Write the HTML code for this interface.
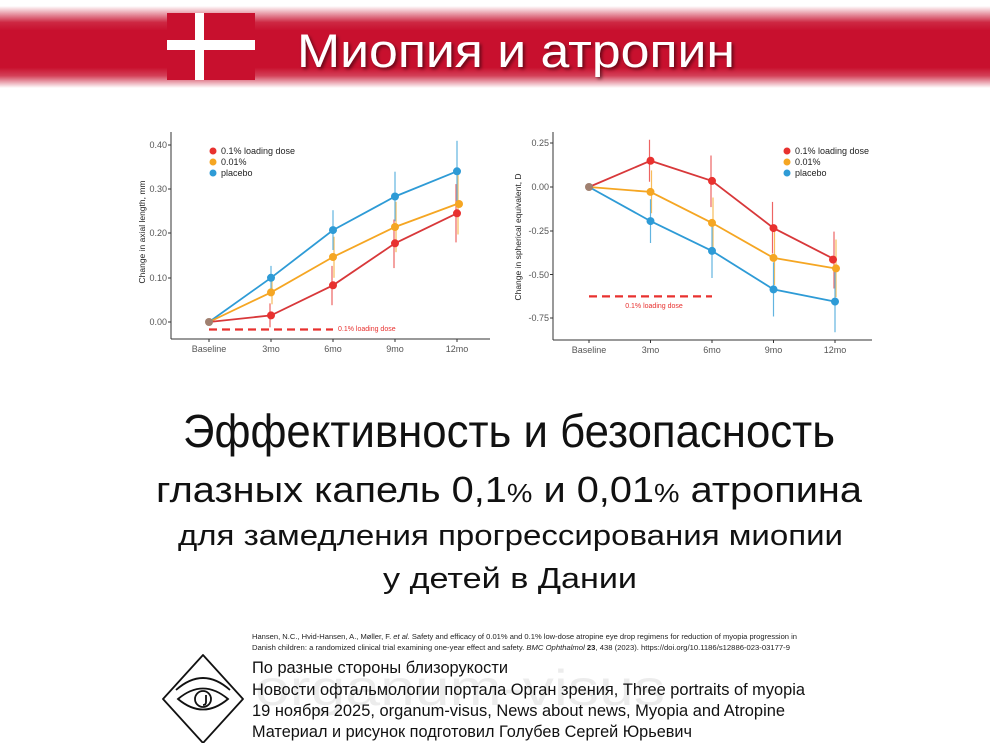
<!DOCTYPE html>
<html><head><meta charset="utf-8"><style>
html,body{margin:0;padding:0;background:#fff}
svg{display:block}
</style></head><body>
<svg width="990" height="743" viewBox="0 0 990 743" xmlns="http://www.w3.org/2000/svg" font-family="Liberation Sans, DejaVu Sans, sans-serif">
<defs>
<linearGradient id="band" x1="0" y1="0" x2="0" y2="1">
<stop offset="0" stop-color="#c8102e" stop-opacity="0"/>
<stop offset="0.2" stop-color="#c8102e" stop-opacity="0.9"/>
<stop offset="0.3" stop-color="#c8102e"/>
<stop offset="0.75" stop-color="#c8102e"/>
<stop offset="0.85" stop-color="#c8102e" stop-opacity="0.8"/>
<stop offset="1" stop-color="#c8102e" stop-opacity="0"/>
</linearGradient>
<filter id="sh"><feDropShadow dx="2" dy="2" stdDeviation="1.5" flood-color="#000" flood-opacity="0.5"/></filter>
</defs>
<rect x="0" y="6" width="990" height="82" fill="url(#band)"/>
<rect x="167" y="13" width="88" height="67" fill="#c8102e"/>
<rect x="195" y="13" width="9" height="67" fill="#fff"/>
<rect x="167" y="40" width="88" height="10" fill="#fff"/>
<text x="297" y="67" font-size="47" fill="#fff" textLength="438" lengthAdjust="spacingAndGlyphs" filter="url(#sh)">Миопия и атропин</text>

<!-- Chart 1 -->
<g font-size="9" fill="#555">
<line x1="171" y1="132" x2="171" y2="339" stroke="#333"/>
<line x1="171" y1="339" x2="490" y2="339" stroke="#333"/>
<g text-anchor="end">
<text x="167" y="148">0.40</text><text x="167" y="192">0.30</text><text x="167" y="236">0.20</text><text x="167" y="281">0.10</text><text x="167" y="325">0.00</text>
</g>
<g stroke="#333"><line x1="168" y1="145" x2="171" y2="145"/><line x1="168" y1="189" x2="171" y2="189"/><line x1="168" y1="233" x2="171" y2="233"/><line x1="168" y1="278" x2="171" y2="278"/><line x1="168" y1="322" x2="171" y2="322"/>
<line x1="209" y1="339" x2="209" y2="342"/><line x1="271" y1="339" x2="271" y2="342"/><line x1="333" y1="339" x2="333" y2="342"/><line x1="395" y1="339" x2="395" y2="342"/><line x1="457" y1="339" x2="457" y2="342"/></g>
<g text-anchor="middle"><text x="209" y="352">Baseline</text><text x="271" y="352">3mo</text><text x="333" y="352">6mo</text><text x="395" y="352">9mo</text><text x="457" y="352">12mo</text></g>
<text transform="translate(145,232) rotate(-90)" text-anchor="middle" fill="#222" font-size="8.5">Change in axial length, mm</text>
</g>
<line x1="209" y1="329.5" x2="333" y2="329.5" stroke="#e8312f" stroke-width="2.2" stroke-dasharray="8,5"/>
<text x="338" y="331" font-size="7" fill="#e8312f">0.1% loading dose</text>
<g stroke-width="1.2" opacity="0.75">
<g stroke="#e8312f"><line x1="270" y1="327.3" x2="270" y2="303.4"/><line x1="332" y1="305.2" x2="332" y2="265.9"/><line x1="394" y1="268.1" x2="394" y2="219.5"/><line x1="456" y1="242.4" x2="456" y2="184.1"/></g>
<g stroke="#f5a623"><line x1="272" y1="304.3" x2="272" y2="280"/><line x1="334" y1="277.8" x2="334" y2="236.7"/><line x1="396" y1="252.2" x2="396" y2="201.8"/><line x1="458" y1="234.5" x2="458" y2="173.9"/></g>
<g stroke="#2e9bd6"><line x1="271" y1="289.7" x2="271" y2="265.9"/><line x1="333" y1="250" x2="333" y2="210.2"/><line x1="395" y1="221.2" x2="395" y2="171.7"/><line x1="457" y1="201.8" x2="457" y2="140.8"/></g>
</g>
<g fill="none" stroke-width="1.8">
<polyline stroke="#2e9bd6" points="209,322 271,277.8 333,230.1 395,196.5 457,171.3"/>
<polyline stroke="#f5a623" points="209,322 271,292.4 333,257 395,227 457,204"/>
<polyline stroke="#d8383a" points="209,322 271,315.4 333,285.3 395,243.3 457,213.3"/>
</g>
<g fill="#2e9bd6"><circle cx="271" cy="277.8" r="4"/><circle cx="333" cy="230.1" r="4"/><circle cx="395" cy="196.5" r="4"/><circle cx="457" cy="171.3" r="4"/></g>
<g fill="#f5a623"><circle cx="271" cy="292.4" r="4"/><circle cx="333" cy="257" r="4"/><circle cx="395" cy="227" r="4"/><circle cx="459" cy="204" r="4"/></g>
<g fill="#e8312f"><circle cx="271" cy="315.4" r="4"/><circle cx="333" cy="285.3" r="4"/><circle cx="395" cy="243.3" r="4"/><circle cx="457" cy="213.3" r="4"/></g>
<circle cx="209" cy="322" r="4" fill="#a08070"/>
<g font-size="9" fill="#222">
<circle cx="213" cy="151" r="3.5" fill="#e8312f"/><text x="221" y="154">0.1% loading dose</text>
<circle cx="213" cy="162" r="3.5" fill="#f5a623"/><text x="221" y="165">0.01%</text>
<circle cx="213" cy="173" r="3.5" fill="#2e9bd6"/><text x="221" y="176">placebo</text>
</g>

<!-- Chart 2 -->
<g font-size="9" fill="#555">
<line x1="553" y1="132" x2="553" y2="340" stroke="#333"/>
<line x1="553" y1="340" x2="872" y2="340" stroke="#333"/>
<g text-anchor="end">
<text x="549" y="146">0.25</text><text x="549" y="190">0.00</text><text x="549" y="234">-0.25</text><text x="549" y="278">-0.50</text><text x="549" y="321">-0.75</text>
</g>
<g stroke="#333"><line x1="550" y1="143" x2="553" y2="143"/><line x1="550" y1="187" x2="553" y2="187"/><line x1="550" y1="231" x2="553" y2="231"/><line x1="550" y1="274.5" x2="553" y2="274.5"/><line x1="550" y1="318" x2="553" y2="318"/>
<line x1="589" y1="340" x2="589" y2="343"/><line x1="650.5" y1="340" x2="650.5" y2="343"/><line x1="712" y1="340" x2="712" y2="343"/><line x1="773.5" y1="340" x2="773.5" y2="343"/><line x1="835" y1="340" x2="835" y2="343"/></g>
<g text-anchor="middle"><text x="589" y="353">Baseline</text><text x="650.5" y="353">3mo</text><text x="712" y="353">6mo</text><text x="773.5" y="353">9mo</text><text x="835" y="353">12mo</text></g>
<text transform="translate(521,237) rotate(-90)" text-anchor="middle" fill="#222" font-size="8.5">Change in spherical equivalent, D</text>
</g>
<line x1="589" y1="296.4" x2="712" y2="296.4" stroke="#e8312f" stroke-width="2.2" stroke-dasharray="8,5"/>
<text x="654" y="308" font-size="7" fill="#e8312f" text-anchor="middle">0.1% loading dose</text>
<g stroke-width="1.2" opacity="0.75">
<g stroke="#e8312f"><line x1="649.5" y1="181.75" x2="649.5" y2="139.75"/><line x1="711" y1="207.1" x2="711" y2="155.5"/><line x1="772.5" y1="253.5" x2="772.5" y2="201.9"/><line x1="834" y1="288.5" x2="834" y2="231.6"/></g>
<g stroke="#f5a623"><line x1="651.5" y1="213.25" x2="651.5" y2="170.4"/><line x1="713" y1="248.25" x2="713" y2="197.5"/><line x1="774.5" y1="285" x2="774.5" y2="230.75"/><line x1="836" y1="297.25" x2="836" y2="239.5"/></g>
<g stroke="#2e9bd6"><line x1="650.5" y1="243" x2="650.5" y2="199.25"/><line x1="712" y1="278" x2="712" y2="223.75"/><line x1="773.5" y1="316.5" x2="773.5" y2="262.25"/><line x1="835" y1="332.25" x2="835" y2="271"/></g>
</g>
<g fill="none" stroke-width="1.8">
<polyline stroke="#2e9bd6" points="589,187 650.5,221.1 712,250.9 773.5,289.4 835,301.6"/>
<polyline stroke="#f5a623" points="589,187 650.5,191.9 712,222.9 773.5,257.9 835,268.4"/>
<polyline stroke="#d8383a" points="589,187 650.5,160.75 712,180.9 773.5,228.1 835,259.6"/>
</g>
<g fill="#2e9bd6"><circle cx="650.5" cy="221.1" r="4"/><circle cx="712" cy="250.9" r="4"/><circle cx="773.5" cy="289.4" r="4"/><circle cx="835" cy="301.6" r="4"/></g>
<g fill="#f5a623"><circle cx="650.5" cy="191.9" r="4"/><circle cx="712" cy="222.9" r="4"/><circle cx="773.5" cy="257.9" r="4"/><circle cx="836" cy="268.4" r="4"/></g>
<g fill="#e8312f"><circle cx="650.5" cy="160.75" r="4"/><circle cx="712" cy="180.9" r="4"/><circle cx="773.5" cy="228.1" r="4"/><circle cx="833" cy="259.6" r="4"/></g>
<circle cx="589" cy="187" r="4" fill="#a08070"/>
<g font-size="9" fill="#222">
<circle cx="787" cy="151" r="3.5" fill="#e8312f"/><text x="795" y="154">0.1% loading dose</text>
<circle cx="787" cy="162" r="3.5" fill="#f5a623"/><text x="795" y="165">0.01%</text>
<circle cx="787" cy="173" r="3.5" fill="#2e9bd6"/><text x="795" y="176">placebo</text>
</g>

<!-- Headline -->
<g fill="#111">
<text x="183" y="447" font-size="46" textLength="652" lengthAdjust="spacingAndGlyphs">Эффективность и безопасность</text>
<text x="156" y="502" font-size="36" textLength="706" lengthAdjust="spacingAndGlyphs">глазных капель 0,1<tspan font-size="26">%</tspan> и 0,01<tspan font-size="26">%</tspan> атропина</text>
<text x="178" y="545" font-size="29" textLength="665" lengthAdjust="spacingAndGlyphs">для замедления прогрессирования миопии</text>
<text x="383" y="588" font-size="29" textLength="254" lengthAdjust="spacingAndGlyphs">у детей в Дании</text>
</g>

<!-- Footer -->
<text x="255" y="705" font-size="50" fill="#000" opacity="0.07" textLength="410" lengthAdjust="spacingAndGlyphs">organum-visus</text>
<g font-size="7" fill="#222">
<text x="252" y="639" textLength="545" lengthAdjust="spacingAndGlyphs">Hansen, N.C., Hvid-Hansen, A., Møller, F. <tspan font-style="italic">et al.</tspan> Safety and efficacy of 0.01% and 0.1% low-dose atropine eye drop regimens for reduction of myopia progression in</text>
<text x="252" y="650" textLength="538" lengthAdjust="spacingAndGlyphs">Danish children: a randomized clinical trial examining one-year effect and safety. <tspan font-style="italic">BMC Ophthalmol</tspan> <tspan font-weight="bold">23</tspan>, 438 (2023). https://doi.org/10.1186/s12886-023-03177-9</text>
</g>
<g font-size="16.5" fill="#111">
<text x="252" y="673" textLength="256" lengthAdjust="spacingAndGlyphs">По разные стороны близорукости</text>
<text x="252" y="695" textLength="553" lengthAdjust="spacingAndGlyphs">Новости офтальмологии портала Орган зрения, Three portraits of myopia</text>
<text x="252" y="716" textLength="533" lengthAdjust="spacingAndGlyphs">19 ноября 2025, organum-visus, News about news, Myopia and Atropine</text>
<text x="252" y="737" textLength="440" lengthAdjust="spacingAndGlyphs">Материал и рисунок подготовил Голубев Сергей Юрьевич</text>
</g>
<g fill="none" stroke="#111" stroke-width="1.8">
<path d="M203,655 L243,699 L203,743 L163,699 Z" stroke-linejoin="round"/>
<path d="M176,690 Q203,666 230,690"/>
<path d="M178,699 Q203,678 228,699 Q203,720 178,699 Z"/>
<circle cx="203" cy="699" r="8"/>
<path d="M206,695 L206,702 Q206,705 203,705"/>
</g>
</svg>
</body></html>
